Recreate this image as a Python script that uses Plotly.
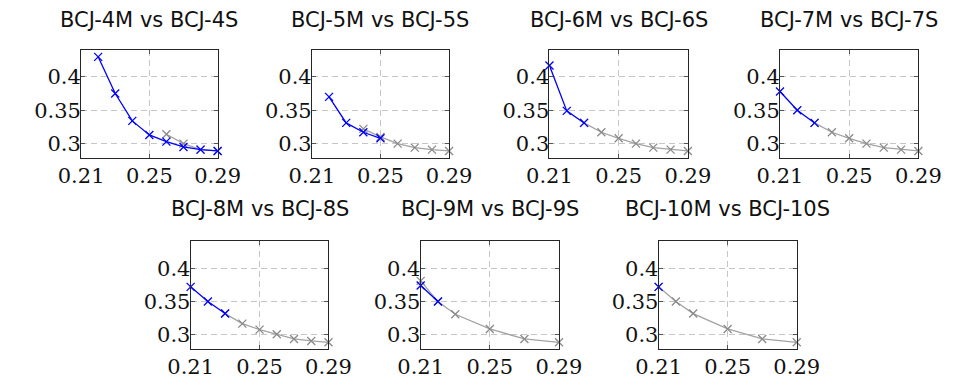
import plotly.graph_objects as go

# Panel titles
titles = ["BCJ-4M vs BCJ-4S", "BCJ-5M vs BCJ-5S", "BCJ-6M vs BCJ-6S",
          "BCJ-7M vs BCJ-7S", "BCJ-8M vs BCJ-8S", "BCJ-9M vs BCJ-9S",
          "BCJ-10M vs BCJ-10S"]

# "M" series (blue)
m4_x = [0.22, 0.23, 0.24, 0.25, 0.26, 0.27, 0.28, 0.29]
m4_y = [0.430, 0.375, 0.334, 0.313, 0.303, 0.295, 0.291, 0.289]
m5_x = [0.22, 0.23, 0.24, 0.25]
m5_y = [0.370, 0.331, 0.317, 0.308]
m6_x = [0.21, 0.22, 0.23]
m6_y = [0.417, 0.349, 0.331]
m7_x = [0.21, 0.22, 0.23]
m7_y = [0.378, 0.350, 0.331]
m8_x = [0.21, 0.22, 0.23]
m8_y = [0.372, 0.350, 0.332]
m9_x = [0.21, 0.22]
m9_y = [0.374, 0.350]
m10_x = [0.21]
m10_y = [0.372]

# "S" series (gray)
s4_x = [0.26, 0.27, 0.28, 0.29]
s4_y = [0.314, 0.300, 0.291, 0.289]
s5_x = [0.24, 0.25, 0.26, 0.27, 0.28, 0.29]
s5_y = [0.322, 0.310, 0.300, 0.294, 0.291, 0.289]
s6_x = [0.23, 0.24, 0.25, 0.26, 0.27, 0.28, 0.29]
s6_y = [0.331, 0.317, 0.308, 0.300, 0.294, 0.291, 0.289]
s7_x = [0.23, 0.24, 0.25, 0.26, 0.27, 0.28, 0.29]
s7_y = [0.331, 0.317, 0.308, 0.300, 0.294, 0.291, 0.289]
s8_x = [0.23, 0.24, 0.25, 0.26, 0.27, 0.28, 0.29]
s8_y = [0.332, 0.317, 0.308, 0.301, 0.294, 0.291, 0.289]
s9_x = [0.21, 0.22, 0.23, 0.25, 0.27, 0.29]
s9_y = [0.381, 0.350, 0.331, 0.309, 0.294, 0.289]
s10_x = [0.21, 0.22, 0.23, 0.25, 0.27, 0.29]
s10_y = [0.372, 0.350, 0.332, 0.309, 0.294, 0.289]

# Axis ticks
x_ticks = [0.21, 0.25, 0.29]
x_ticktext = ["0.21", "0.25", "0.29"]
y_ticks = [0.3, 0.35, 0.4]
y_ticktext = ["0.3", "0.35", "0.4"]

m_series = [(m4_x, m4_y), (m5_x, m5_y), (m6_x, m6_y), (m7_x, m7_y),
            (m8_x, m8_y), (m9_x, m9_y), (m10_x, m10_y)]
s_series = [(s4_x, s4_y), (s5_x, s5_y), (s6_x, s6_y), (s7_x, s7_y),
            (s8_x, s8_y), (s9_x, s9_y), (s10_x, s10_y)]

W, H = 969, 379
# plot-area boxes in pixels: (left, right, top, bottom)
boxes = [
    (61.0, 204.3, 50.7, 159.3),
    (303.3, 447.3, 50.7, 159.3),
    (552.7, 698.0, 50.7, 159.3),
    (794.7, 940.0, 50.7, 159.3),
    (176.0, 320.7, 244.0, 352.7),
    (417.5, 562.7, 244.0, 352.7),
    (667.3, 812.3, 244.0, 352.7),
]
title_y = [20.0, 20.0, 20.0, 20.0, 211.7, 211.7, 211.7]

GRAY_LINE = "#a3a3a3"
GRAY_MARK = "#8a8a8a"
BLUE = "#0000ff"
GRID = "#c6c6c6"
FRAME = "#262626"
TICKFONT = dict(family="DejaVu Serif", size=21, color="#111111")

fig = go.Figure()
annotations = []
layout_axes = {}

for i, (box, title) in enumerate(zip(boxes, titles)):
    left, right, top, bottom = box
    n = "" if i == 0 else str(i + 1)
    xa, ya = "x" + n, "y" + n

    sx, sy = s_series[i]
    fig.add_trace(go.Scatter(
        x=sx, y=sy, mode="lines+markers", xaxis=xa, yaxis=ya,
        line=dict(color=GRAY_LINE, width=1.3),
        marker=dict(symbol="x-thin", size=8, color=GRAY_MARK,
                    line=dict(color=GRAY_MARK, width=1.3)),
        showlegend=False, cliponaxis=False))
    mx, my = m_series[i]
    fig.add_trace(go.Scatter(
        x=mx, y=my, mode="lines+markers", xaxis=xa, yaxis=ya,
        line=dict(color=BLUE, width=1.3),
        marker=dict(symbol="x-thin", size=8, color=BLUE,
                    line=dict(color=BLUE, width=1.3)),
        showlegend=False, cliponaxis=False))

    common = dict(showline=True, linecolor=FRAME, linewidth=1, mirror="ticks",
                  ticks="inside", ticklen=4, tickcolor="#555555", tickwidth=1,
                  showgrid=True, gridcolor=GRID, gridwidth=1, griddash="6px,4px",
                  zeroline=False, fixedrange=True, tickfont=TICKFONT)
    layout_axes["xaxis" + n] = dict(
        common, domain=[left / W, right / W], range=[0.21, 0.29],
        tickvals=x_ticks, ticktext=x_ticktext, anchor=ya,
        ticklabelstandoff=-1)
    layout_axes["yaxis" + n] = dict(
        common, domain=[1 - bottom / H, 1 - top / H], range=[0.279, 0.44],
        tickvals=y_ticks, ticktext=y_ticktext, anchor=xa,
        ticklabelstandoff=-5)

    annotations.append(dict(
        text=title, x=(left + right) / 2 / W, y=1 - title_y[i] / H,
        xref="paper", yref="paper", xanchor="center", yanchor="middle",
        showarrow=False,
        font=dict(family="DejaVu Sans", size=21, color="#111111")))

fig.update_layout(
    width=W, height=H, margin=dict(l=0, r=0, t=0, b=0),
    paper_bgcolor="white", plot_bgcolor="white",
    annotations=annotations, **layout_axes)

fig.write_html("out.html")
